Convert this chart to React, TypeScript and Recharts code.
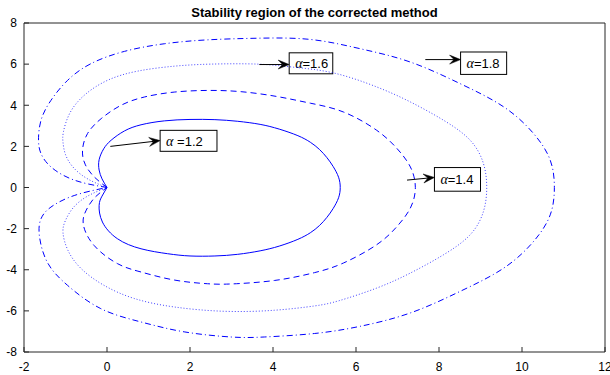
import React from 'react';
import { LineChart, Line, XAxis, YAxis, ReferenceLine, ReferenceArea } from 'recharts';

// boundary points, cusp at the origin, counter-clockwise
const alpha12: [number, number][] = [
  [0, 0], [-0.12, 0.42], [-0.19, 0.85], [-0.19, 1.35], [-0.08, 1.88], [0.1, 2.3], [0.42, 2.75],
  [0.82, 3.05], [1.38, 3.24], [2.0, 3.31], [2.6, 3.3], [3.15, 3.22], [3.69, 3.07], [4.15, 2.84],
  [4.6, 2.52], [4.9, 2.2], [5.12, 1.85], [5.3, 1.45], [5.45, 1.02], [5.58, 0.5], [5.62, 0],
  [5.58, -0.5], [5.45, -1.02], [5.3, -1.45], [5.12, -1.85], [4.9, -2.2], [4.6, -2.52], [4.15, -2.85],
  [3.69, -3.08], [3.15, -3.25], [2.6, -3.33], [2.0, -3.33], [1.46, -3.22], [0.82, -2.98], [0.25, -2.49],
  [-0.11, -1.68], [-0.19, -0.87], [-0.12, -0.42], [0, 0],
];

const alpha14: [number, number][] = [
  [0, 0], [-0.3, 0.5], [-0.52, 1.1], [-0.59, 1.8], [-0.47, 2.62], [-0.14, 3.35], [0.34, 4.0],
  [0.9, 4.4], [1.62, 4.64], [2.42, 4.72], [3.23, 4.66], [4.11, 4.42], [4.9, 4.1], [5.7, 3.67],
  [6.5, 2.78], [6.99, 1.89], [7.31, 1.0], [7.43, 0],
  [7.31, -1.0], [6.99, -1.89], [6.5, -2.78], [5.7, -3.67], [5.0, -4.14], [4.04, -4.52], [3.0, -4.69],
  [2.42, -4.68], [1.62, -4.5], [0.82, -4.11], [0.25, -3.7], [-0.31, -2.82], [-0.57, -1.8],
  [-0.5, -1.1], [-0.3, -0.5], [0, 0],
];

const alpha16: [number, number][] = [
  [0, 0], [-0.45, 0.4], [-0.8, 0.95], [-1.0, 1.6], [-1.06, 2.2], [-1.05, 2.7], [-0.9, 3.6],
  [-0.55, 4.48], [0.01, 5.21], [0.74, 5.66], [1.62, 5.9], [2.5, 6.0], [3.63, 6.0], [4.5, 5.85],
  [5.46, 5.57], [6.5, 4.89], [7.31, 4.16], [8.11, 3.27], [8.75, 2.3], [9.07, 1.17], [9.15, 0],
  [9.07, -1.17], [8.75, -2.3], [8.11, -3.27], [7.31, -4.16], [6.5, -4.89], [5.6, -5.5], [5.0, -5.76],
  [4.03, -5.97], [2.83, -6.02], [1.62, -5.81], [0.66, -5.4], [-0.07, -4.76], [-0.62, -3.95],
  [-0.94, -3.06], [-1.06, -2.2], [-1.0, -1.6], [-0.8, -0.95], [-0.45, -0.4], [0, 0],
];

const alpha18: [number, number][] = [
  [0, 0], [-0.79, 0.36], [-1.35, 1.0], [-1.59, 1.65], [-1.65, 2.3], [-1.59, 3.27], [-1.35, 4.24],
  [-0.95, 5.21], [-0.39, 6.02], [0.42, 6.62], [1.38, 6.99], [2.42, 7.18], [3.63, 7.26], [4.9, 7.2],
  [6.1, 6.75], [7.31, 6.1], [8.51, 5.05], [9.56, 3.92], [10.28, 2.62], [10.68, 1.33], [10.78, 0],
  [10.68, -1.33], [10.28, -2.62], [9.56, -3.92], [8.51, -5.05], [7.31, -6.1], [6.1, -6.75],
  [5.0, -7.1], [3.79, -7.27], [2.99, -7.27], [1.86, -7.02], [0.82, -6.54], [-0.15, -5.89],
  [-0.95, -4.76], [-1.44, -3.63], [-1.63, -2.33], [-1.59, -1.52], [-1.35, -0.95], [-0.79, -0.39], [0, 0],
];

const xTicks = [-2, 0, 2, 4, 6, 8, 10, 12];
const yTicks = [-8, -6, -4, -2, 0, 2, 4, 6, 8];

// text arrows: label, arrow tail, arrow head, box corners (data units)
const noteText = [' =1.2', '=1.4', '=1.6', '=1.8'];
const noteFrom: [number, number][] = [[0.08, 2.0], [7.23, 0.36], [3.67, 5.98], [7.67, 6.22]];
const noteTo: [number, number][] = [[1.28, 2.28], [7.89, 0.49], [4.39, 5.98], [8.52, 6.22]];
const noteBox: [number, number, number, number][] = [
  [1.28, 2.65, 1.76, 2.78],
  [7.89, 9.0, -0.18, 0.97],
  [4.39, 5.44, 5.53, 6.55],
  [8.52, 9.63, 5.5, 6.59],
];

const toPts = (arr: [number, number][]) => arr.map(([x, y]) => ({ x, y }));

const BLUE = '#0000ff';
const AXIS = '#262626';

const arrowShape = (props: any) => {
  const { x1, y1, x2, y2 } = props;
  const dx = x2 - x1;
  const dy = y2 - y1;
  const len = Math.hypot(dx, dy) || 1;
  const ux = dx / len;
  const uy = dy / len;
  const nx = -uy;
  const ny = ux;
  const L = 11;
  const W = 4.5;
  const bx = x2 - ux * L;
  const by = y2 - uy * L;
  const mx = x2 - ux * L * 0.6;
  const my = y2 - uy * L * 0.6;
  const d = `M${x2},${y2} L${bx + nx * W},${by + ny * W} L${mx},${my} L${bx - nx * W},${by - ny * W} Z`;
  return (
    <g>
      <line x1={x1} y1={y1} x2={mx} y2={my} stroke="#000" strokeWidth={1} />
      <path d={d} fill="#000" stroke="#000" strokeWidth={0.5} />
    </g>
  );
};

const boxShape = (text: string) => (props: any) => {
  const { x, y, width, height } = props;
  return (
    <g>
      <rect x={x} y={y} width={width} height={height} fill="#fff" stroke="#000" strokeWidth={1} />
      <text x={x + 6} y={y + height / 2} dy="0.36em" fontSize={13} fill="#000">
        <tspan fontFamily="'Liberation Serif', serif" fontStyle="italic" fontSize={14}>α</tspan>
        <tspan>{text}</tspan>
      </text>
    </g>
  );
};

export default function App() {
  return (
    <div style={{ position: 'absolute', left: 0, top: 0, width: 610, height: 375, background: '#fff', fontFamily: "'Liberation Sans', Arial, sans-serif" }}>
      <svg width={610} height={22} style={{ position: 'absolute', left: 0, top: 0 }}>
        <text x={314.5} y={17} textAnchor="middle" fontWeight="bold" fontSize={13} fill="#000">
          Stability region of the corrected method
        </text>
      </svg>
      <LineChart width={610} height={375} margin={{ top: 22, right: 4, bottom: 0, left: 0 }}>
        <XAxis
          dataKey="x"
          type="number"
          domain={[-2, 12]}
          ticks={xTicks}
          interval={0}
          allowDataOverflow
          height={23}
          tickSize={-5}
          tickMargin={15}
          axisLine={{ stroke: AXIS }}
          tickLine={{ stroke: AXIS }}
          tick={{ fill: '#000', fontSize: 12 }}
        />
        <XAxis
          xAxisId="top"
          orientation="top"
          type="number"
          domain={[-2, 12]}
          ticks={xTicks}
          interval={0}
          allowDataOverflow
          height={1}
          tickSize={-5}
          tick={false}
          axisLine={{ stroke: AXIS }}
          tickLine={{ stroke: AXIS }}
        />
        <YAxis
          type="number"
          domain={[-8, 8]}
          ticks={yTicks}
          interval={0}
          allowDataOverflow
          width={24}
          tickSize={-5}
          tickMargin={12}
          axisLine={{ stroke: AXIS }}
          tickLine={{ stroke: AXIS }}
          tick={{ fill: '#000', fontSize: 12 }}
        />
        <YAxis
          yAxisId="right"
          orientation="right"
          type="number"
          domain={[-8, 8]}
          ticks={yTicks}
          interval={0}
          allowDataOverflow
          width={1}
          tickSize={-5}
          tick={false}
          axisLine={{ stroke: AXIS }}
          tickLine={{ stroke: AXIS }}
        />
        <Line data={toPts(alpha12)} dataKey="y" type="natural" stroke={BLUE} strokeWidth={1} dot={false} isAnimationActive={false} />
        <Line data={toPts(alpha14)} dataKey="y" type="natural" stroke={BLUE} strokeWidth={1} strokeDasharray="6 4" dot={false} isAnimationActive={false} />
        <Line data={toPts(alpha16)} dataKey="y" type="natural" stroke={BLUE} strokeWidth={1} strokeDasharray="1 2" strokeOpacity={0.75} dot={false} isAnimationActive={false} />
        <Line data={toPts(alpha18)} dataKey="y" type="natural" stroke={BLUE} strokeWidth={1} strokeDasharray="6 3 1 3" dot={false} isAnimationActive={false} />
        {noteBox.map(([xa, xb, ya, yb], i) => (
          <ReferenceArea key={'b' + i} x1={xa} x2={xb} y1={ya} y2={yb} shape={boxShape(noteText[i])} />
        ))}
        {noteFrom.map(([fx, fy], i) => (
          <ReferenceLine
            key={'a' + i}
            segment={[{ x: fx, y: fy }, { x: noteTo[i][0], y: noteTo[i][1] }]}
            shape={arrowShape}
          />
        ))}
      </LineChart>
    </div>
  );
}
